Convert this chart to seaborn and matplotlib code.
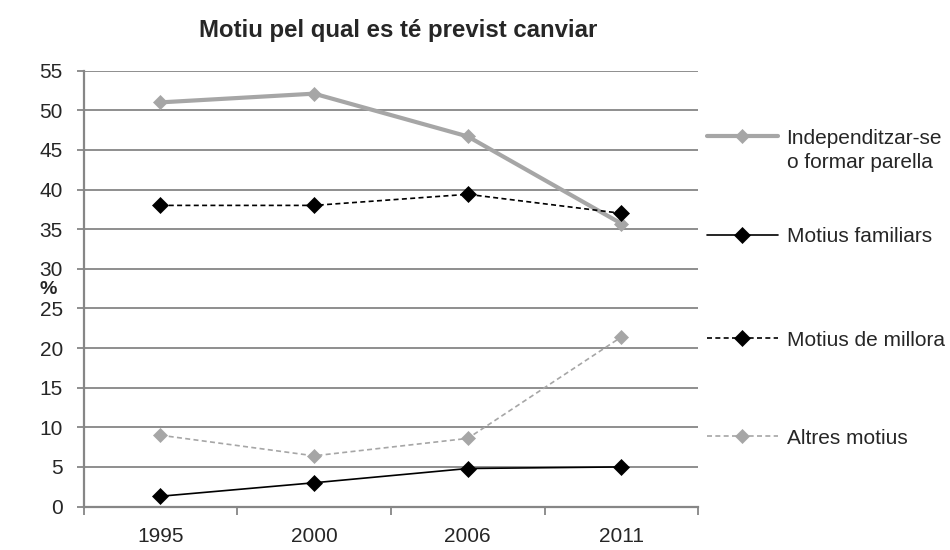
import matplotlib
matplotlib.use("Agg")
import matplotlib.pyplot as plt
from matplotlib.offsetbox import HPacker
import seaborn as sns
import pandas as pd

# Survey years and the share (%) of each reason
years = ["1995", "2000", "2006", "2011"]
independitzar = [51.0, 52.1, 46.7, 35.7]
familiars = [1.3, 3.0, 4.8, 5.0]
millora = [38.0, 38.0, 39.4, 37.0]
altres = [9.0, 6.4, 8.6, 21.4]

labels = ["Independitzar-se\no formar parella", "Motius familiars",
          "Motius de millora", "Altres motius"]
yticks = list(range(0, 56, 5))

sns.set_theme(style="white")
FONT = ["Liberation Sans Narrow", "Liberation Sans", "DejaVu Sans"]
plt.rcParams["font.family"] = FONT

GRID = "#868686"
LIGHT = "#A6A6A6"

fig = plt.figure(figsize=(9.5, 5.5), dpi=100)
ax = fig.add_axes([0.088, 0.079, 0.647, 0.7925])

pos = list(range(len(years)))
series = [
    (independitzar, dict(color=LIGHT, lw=3.0, ls="-", ms=7.0, mec=LIGHT)),
    (familiars, dict(color="black", lw=1.2, ls="-", ms=7.8, mec="black")),
    (millora, dict(color="black", lw=1.2, ls=(0, (3, 2)), ms=7.8, mec="black")),
    (altres, dict(color=LIGHT, lw=1.2, ls=(0, (3, 2)), ms=7.0, mec=LIGHT)),
]

handles = []
for (vals, st), lab in zip(series, labels):
    df = pd.DataFrame({"x": pos, "y": vals})
    sns.lineplot(data=df, x="x", y="y", ax=ax, color=st["color"],
                 linewidth=st["lw"], linestyle=st["ls"], marker="D",
                 markersize=st["ms"], markeredgecolor=st["mec"],
                 markeredgewidth=0.5, zorder=3)
    handles.append(ax.lines[-1])

# Axes, grid and ticks
ax.set_xlim(-0.5, len(years) - 0.5)
ax.set_ylim(0, 55)
ax.set_yticks(yticks)
ax.set_yticklabels([str(t) for t in yticks], fontsize=15)
ax.yaxis.grid(True, color=GRID, linewidth=1.3)
ax.xaxis.grid(False)
ax.set_axisbelow(True)

ax.set_xticks([i - 0.5 for i in range(len(years) + 1)])
ax.set_xticklabels([])
ax.set_xticks(pos, minor=True)
ax.set_xticklabels(years, minor=True, fontsize=15)
ax.tick_params(axis="x", which="major", direction="out", length=6,
               width=1.3, color=GRID, bottom=True)
ax.tick_params(axis="x", which="minor", length=0, pad=15)
ax.tick_params(axis="y", direction="out", length=5, width=1.3,
               color=GRID, left=True, pad=10)

for side in ["top", "right"]:
    ax.spines[side].set_visible(False)
for side in ["left", "bottom"]:
    ax.spines[side].set_color(GRID)
    ax.spines[side].set_linewidth(1.6)

ax.set_xlabel("")
ax.set_ylabel("%", fontsize=14, fontweight="bold", rotation=0,
              ha="center", va="center")
ax.yaxis.set_label_coords(-0.058, 0.498)

fig.text(0.419, 0.945, "Motiu pel qual es té previst canviar",
         ha="center", va="center", fontsize=17.3, fontweight="bold")

# One legend entry per block, placed along the right side
legend_y = [140, 237, 340, 438]
for h, lab, yp in zip(handles, labels, legend_y):
    multi = "\n" in lab
    leg = fig.legend([h], [lab], loc="upper left" if multi else "center left",
                     bbox_to_anchor=(707 / 950, 1 - (yp - 11) / 550 if multi else 1 - yp / 550),
                     frameon=False, fontsize=15, handlelength=3.4,
                     handletextpad=0.42, borderpad=0, borderaxespad=0,
                     labelspacing=0)
    if multi:
        for hp in leg.findobj(HPacker):
            hp.align = "top"
        for t in leg.get_texts():
            t.set_linespacing(1.35)

fig.savefig("out.png", dpi=100)
